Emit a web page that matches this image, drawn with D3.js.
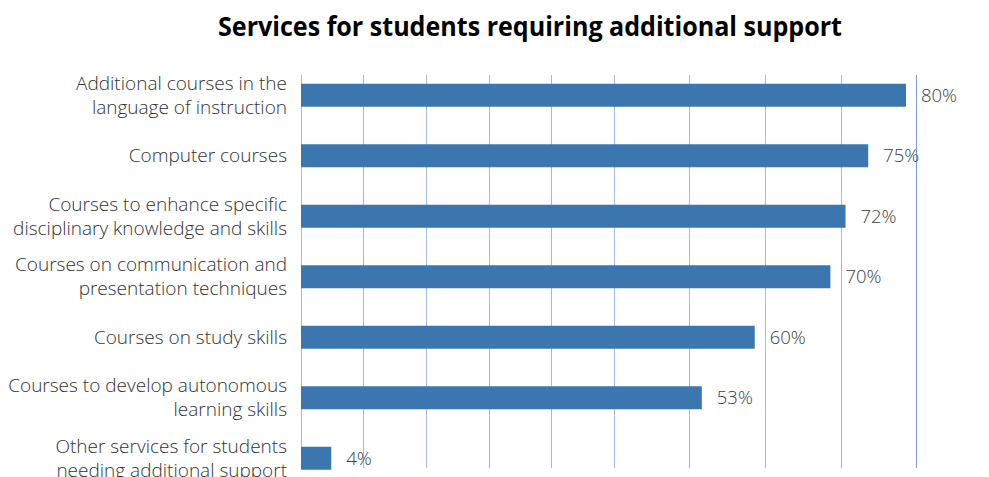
<!DOCTYPE html>
<html>
<head>
<meta charset="utf-8">
<script src="https://cdn.jsdelivr.net/npm/d3@7"></script>
<style>
  html, body { margin: 0; padding: 0; background: #fff; }
  svg { display: block; }
</style>
</head>
<body>
<svg id="chart" width="989" height="477"></svg>
<script>
const title = "Services for students requiring additional support";
const categories = [
  ["Additional courses in the", "language of instruction"],
  ["Computer courses"],
  ["Courses to enhance specific", "disciplinary knowledge and skills"],
  ["Courses on communication and", "presentation techniques"],
  ["Courses on study skills"],
  ["Courses to develop autonomous", "learning skills"],
  ["Other services for students", "needing additional support"]
];
const values = [80, 75, 72, 70, 60, 53, 4];
const gridValues = [0, 8.2, 16.5, 24.9, 33.1, 41.4, 51.3, 61.4, 71.4, 81.3];

const svg = d3.select("#chart");
const x = d3.scaleLinear().domain([0, 100]).range([301, 1057.25]);
const y = d3.scaleBand().domain(d3.range(categories.length)).range([65, 488.5]).paddingInner(0.62).paddingOuter(0.31);

// gridlines
svg.append("g").selectAll("line").data(gridValues).join("line")
  .attr("x1", d => Math.round(x(d)) + 0.5).attr("x2", d => Math.round(x(d)) + 0.5)
  .attr("y1", 75).attr("y2", 468)
  .attr("stroke", (d, i) => i === gridValues.length - 1 ? "#7f9ccc" : "#a7b9dc")
  .attr("stroke-width", 1);

// bars
svg.append("g").selectAll("rect").data(values).join("rect")
  .attr("x", x(0))
  .attr("y", (d, i) => y(i))
  .attr("width", d => x(d) - x(0))
  .attr("height", y.bandwidth())
  .attr("fill", "#3b76af");

// value labels
svg.append("g").selectAll("text").data(values).join("text")
  .attr("x", d => x(d) + 15)
  .attr("y", (d, i) => y(i) + y.bandwidth() / 2)
  .attr("dy", "0.35em")
  .attr("font-family", "'Open Sans', sans-serif")
  .attr("font-size", 18.5)
  .attr("font-weight", 300)
  .attr("fill", "#404040")
  .text(d => d + "%");

// category labels
const lab = svg.append("g").selectAll("text").data(categories).join("text")
  .attr("x", 287)
  .attr("y", (d, i) => y(i) + y.bandwidth() / 2)
  .attr("text-anchor", "end")
  .attr("font-family", "'Open Sans', sans-serif")
  .attr("font-size", 19)
  .attr("font-weight", 300)
  .attr("fill", "#333");
lab.each(function(lines) {
  const t = d3.select(this);
  const n = lines.length;
  lines.forEach((s, j) => {
    t.append("tspan").attr("x", 287)
      .attr("dy", j === 0 ? ((0.35 - (n - 1) * 0.63) + "em") : "1.26em")
      .text(s);
  });
});

// title
const tt = svg.append("text")
  .attr("x", 530).attr("y", 36)
  .attr("text-anchor", "middle")
  .attr("font-family", "'Open Sans', sans-serif")
  .attr("font-weight", "bold")
  .attr("font-size", 26)
  .attr("fill", "#000")
  .text(title);
const w = tt.node().getComputedTextLength();
if (w > 624) tt.attr("textLength", 624).attr("lengthAdjust", "spacingAndGlyphs");
</script>
</body>
</html>
